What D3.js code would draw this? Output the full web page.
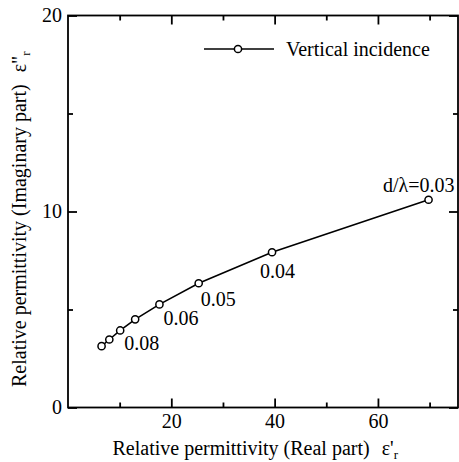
<!DOCTYPE html>
<html>
<head>
<meta charset="utf-8">
<script src="https://cdn.jsdelivr.net/npm/d3@7"></script>
<style>
  html, body { margin: 0; padding: 0; background: #fff; overflow: hidden; }
  svg { display: block; }
</style>
</head>
<body>
<div id="chart1" style="width:459px;height:462px"></div>
<script>
// values
const realPart = [6.5, 8.0, 10.1, 13.0, 17.7, 25.3, 39.5, 69.8]
const imagPart = [3.13, 3.47, 3.93, 4.5, 5.26, 6.34, 7.92, 10.6]
const ratios = [0.10, 0.09, 0.08, 0.07, 0.06, 0.05, 0.04, 0.03]
const pointLabels = ['', '', '0.08', '', '0.06', '0.05', '0.04', 'd/λ=0.03']
const xTicks = [20, 40, 60]
const xMinorTicks = [10, 30, 50, 70]
const yTicks = [0, 10, 20]
const yMinorTicks = [5, 15]
const seriesName = 'Vertical incidence'

const serif = '"Liberation Serif", "Times New Roman", Times, serif'

const createChart = () => {
  const id = '#chart1'
  const width = 459
  const height = 462

  const margin = { top: 15.5, right: 1, bottom: 54.5, left: 68 }
  const boundedWidth = width - margin.left - margin.right
  const boundedHeight = height - margin.top - margin.bottom

  const data = realPart.map((d, i) => ({
    re: d,
    im: imagPart[i],
    ratio: ratios[i],
    label: pointLabels[i]
  }))

  // where each label sits relative to its point: [dx, dy, anchor]
  const labelPlacement = {
    0.08: [4, 20, 'start'],
    0.06: [4, 21, 'start'],
    0.05: [2, 23, 'start'],
    0.04: [-12, 26, 'start'],
    0.03: [26, -8, 'end']
  }

  const wrapper = d3
    .select(id)
    .append('svg')
    .attr('width', width)
    .attr('height', height)
    .style('font-family', serif)

  const bounds = wrapper
    .append('g')
    .attr('transform', `translate(${margin.left}, ${margin.top})`)

  // scales
  const xScale = d3.scaleLinear().domain([0, 75.5]).range([0, boundedWidth])
  const yScale = d3.scaleLinear().domain([0, 20]).range([boundedHeight, 0])

  // ticks, all pointing inward
  const styleAxis = (g) => {
    g.select('.domain').remove()
    g.selectAll('line').attr('stroke', '#000').attr('stroke-width', 1.8)
    g.selectAll('text')
      .style('font-family', serif)
      .style('font-size', '20px')
      .attr('fill', '#000')
  }

  bounds
    .append('g')
    .attr('transform', `translate(0, ${boundedHeight})`)
    .call(d3.axisBottom(xScale).tickValues(xTicks).tickSize(-9).tickPadding(6))
    .call(styleAxis)
  bounds
    .append('g')
    .attr('transform', `translate(0, ${boundedHeight})`)
    .call(d3.axisBottom(xScale).tickValues(xMinorTicks).tickSize(-5).tickFormat(''))
    .call(styleAxis)
  bounds
    .append('g')
    .call(d3.axisTop(xScale).tickValues(xTicks).tickSize(-9).tickFormat(''))
    .call(styleAxis)
  bounds
    .append('g')
    .call(d3.axisTop(xScale).tickValues(xMinorTicks).tickSize(-5).tickFormat(''))
    .call(styleAxis)

  bounds
    .append('g')
    .call(d3.axisLeft(yScale).tickValues(yTicks).tickSize(-9).tickPadding(6))
    .call(styleAxis)
  bounds
    .append('g')
    .call(d3.axisLeft(yScale).tickValues(yMinorTicks).tickSize(-5).tickFormat(''))
    .call(styleAxis)
  bounds
    .append('g')
    .attr('transform', `translate(${boundedWidth}, 0)`)
    .call(d3.axisRight(yScale).tickValues(yTicks).tickSize(-9).tickFormat(''))
    .call(styleAxis)
  bounds
    .append('g')
    .attr('transform', `translate(${boundedWidth}, 0)`)
    .call(d3.axisRight(yScale).tickValues(yMinorTicks).tickSize(-5).tickFormat(''))
    .call(styleAxis)

  // frame
  bounds
    .append('rect')
    .attr('width', boundedWidth)
    .attr('height', boundedHeight)
    .attr('fill', 'none')
    .attr('stroke', '#000')
    .attr('stroke-width', 1.8)

  // draw data
  const lineGenerator = d3
    .line()
    .x((d) => xScale(d.re))
    .y((d) => yScale(d.im))

  bounds
    .append('path')
    .attr('d', lineGenerator(data))
    .attr('fill', 'none')
    .attr('stroke', '#000')
    .attr('stroke-width', 1.6)

  bounds
    .selectAll('circle.pt')
    .data(data)
    .join('circle')
    .attr('class', 'pt')
    .attr('cx', (d) => xScale(d.re))
    .attr('cy', (d) => yScale(d.im))
    .attr('r', 3.6)
    .attr('fill', '#fff')
    .attr('stroke', '#000')
    .attr('stroke-width', 1.5)

  bounds
    .selectAll('text.pt-label')
    .data(data.filter((d) => d.label !== ''))
    .join('text')
    .attr('class', 'pt-label')
    .attr('x', (d) => xScale(d.re) + labelPlacement[d.ratio][0])
    .attr('y', (d) => yScale(d.im) + labelPlacement[d.ratio][1])
    .attr('text-anchor', (d) => labelPlacement[d.ratio][2])
    .style('font-family', serif)
    .style('font-size', '20px')
    .text((d) => d.label)

  // legend
  const legend = bounds.append('g').attr('transform', 'translate(136, 33.5)')
  legend
    .append('line')
    .attr('x1', 0)
    .attr('x2', 70)
    .attr('stroke', '#000')
    .attr('stroke-width', 1.6)
  legend
    .append('circle')
    .attr('cx', 34)
    .attr('r', 3.6)
    .attr('fill', '#fff')
    .attr('stroke', '#000')
    .attr('stroke-width', 1.5)
  legend
    .append('text')
    .attr('x', 82)
    .attr('dy', '0.33em')
    .style('font-family', serif)
    .style('font-size', '20px')
    .text(seriesName)

  // axis titles
  const xTitle = wrapper
    .append('text')
    .attr('x', 112.5)
    .attr('y', 455)
    .style('font-family', serif)
    .style('font-size', '20px')
  xTitle.append('tspan').text('Relative permittivity (Real part)')
  xTitle.append('tspan').attr('dx', 12).text('ε\'')
  xTitle.append('tspan').attr('dy', 4).style('font-size', '13px').text('r')

  const yTitle = wrapper
    .append('text')
    .attr('transform', 'translate(26, 387) rotate(-90)')
    .style('font-family', serif)
    .style('font-size', '20px')
  yTitle.append('tspan').text('Relative permittivity (Imaginary part)')
  yTitle.append('tspan').attr('dx', 12).text('ε"')
  yTitle.append('tspan').attr('dy', 4).style('font-size', '13px').text('r')
}

createChart()
</script>
</body>
</html>
